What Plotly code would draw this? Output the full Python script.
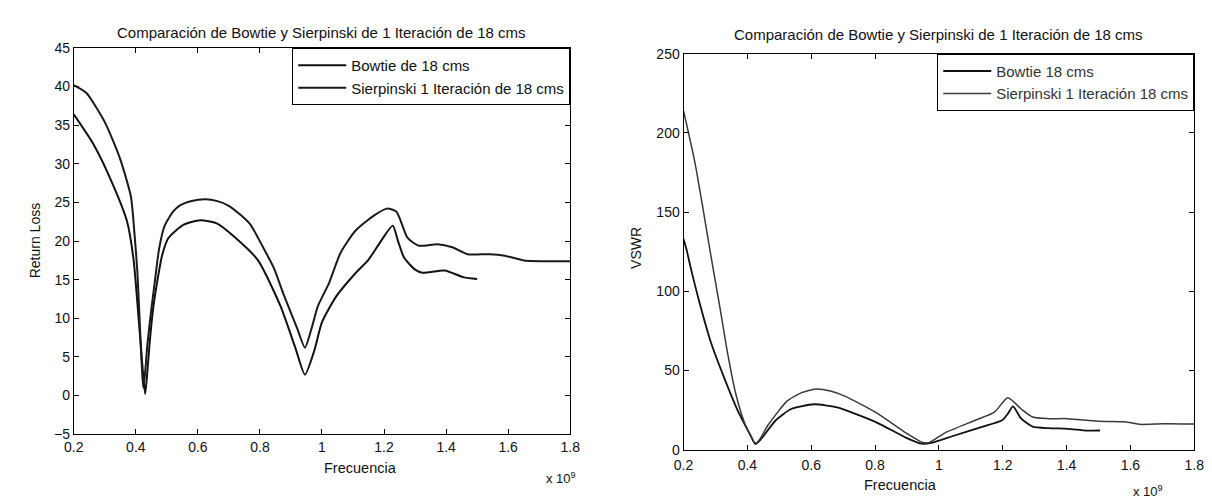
import plotly.graph_objects as go

# ---------------- data (frequency in units of 1e9 Hz) ----------------
rl_sierp_f = [0.2, 0.24, 0.3, 0.348, 0.384, 0.396, 0.405, 0.412, 0.419, 0.424, 0.43, 0.437,
              0.448, 0.462, 0.475, 0.493, 0.52, 0.541, 0.58, 0.625, 0.66, 0.698, 0.74, 0.77,
              0.81, 0.845, 0.878, 0.92, 0.945, 0.965, 0.987, 1.023, 1.06, 1.107, 1.167, 1.21,
              1.24, 1.276, 1.312, 1.372, 1.42, 1.469, 1.541, 1.589, 1.65, 1.71, 1.8]
rl_sierp_v = [40.2, 39.2, 35.4, 30.8, 25.8, 20.8, 16.0, 10.0, 4.0, 1.0, 3.0, 6.5,
              10.5, 15.0, 19.0, 22.0, 23.8, 24.6, 25.2, 25.4, 25.2, 24.6, 23.3, 22.1,
              19.2, 16.5, 12.9, 8.7, 6.2, 8.5, 11.6, 14.6, 18.5, 21.3, 23.3, 24.2,
              23.8, 20.4, 19.4, 19.6, 19.2, 18.3, 18.3, 18.1, 17.5, 17.4, 17.4]

rl_bow_f = [0.2, 0.264, 0.324, 0.372, 0.393, 0.405, 0.415, 0.423, 0.43, 0.437, 0.445, 0.455,
            0.47, 0.485, 0.505, 0.553, 0.607, 0.661, 0.722, 0.794, 0.866, 0.914, 0.945, 0.975,
            1.0, 1.047, 1.107, 1.15, 1.19, 1.228, 1.245, 1.264, 1.3, 1.324, 1.396, 1.457, 1.5]
rl_bow_v = [36.4, 32.5, 27.5, 22.5, 17.5, 12.0, 7.0, 3.0, 0.2, 3.0, 7.0, 11.0,
            15.0, 18.2, 20.4, 22.1, 22.7, 22.3, 20.4, 17.5, 11.6, 6.2, 2.7, 5.8,
            9.5, 12.9, 15.8, 17.6, 20.0, 22.0, 20.0, 17.9, 16.3, 15.9, 16.2, 15.3, 15.1]

vswr_sierp_f = [0.2, 0.236, 0.262, 0.287, 0.313, 0.338, 0.364, 0.395, 0.426, 0.44, 0.465, 0.525,
                0.57, 0.615, 0.66, 0.705, 0.801, 0.898, 0.95, 0.97, 1.018, 1.114, 1.174, 1.216,
                1.258, 1.294, 1.343, 1.403, 1.499, 1.583, 1.631, 1.703, 1.8]
vswr_sierp_v = [214, 181, 151, 121, 91, 61, 35, 15, 4, 7, 15.6, 30.8,
                36, 38.3, 37, 33.8, 23.7, 10.5, 4.5, 4.5, 10.5, 18.6, 23.7, 32.8,
                25.7, 20.6, 19.6, 19.6, 18, 17.6, 16, 16.4, 16.2]

vswr_bow_f = [0.2, 0.21, 0.22, 0.246, 0.287, 0.328, 0.369, 0.41, 0.425, 0.44, 0.489, 0.537,
              0.609, 0.681, 0.801, 0.898, 0.946, 0.98, 1.042, 1.138, 1.198, 1.216, 1.232,
              1.258, 1.294, 1.343, 1.403, 1.463, 1.505]
vswr_bow_v = [133, 126, 117, 96, 67, 45, 25, 9, 3.5, 6, 18.6, 25.7,
              28.7, 26.7, 17.6, 7.5, 3.8, 4.5, 8.5, 14.6, 18.6, 22.7, 27.3,
              19.6, 14.6, 13.6, 13.2, 12.1, 12.1]

x_ticks = [0.2, 0.4, 0.6, 0.8, 1.0, 1.2, 1.4, 1.6, 1.8]
x_ticktext = ["0.2", "0.4", "0.6", "0.8", "1", "1.2", "1.4", "1.6", "1.8"]
rl_ticks = [-5, 0, 5, 10, 15, 20, 25, 30, 35, 40, 45]
vswr_ticks = [0, 50, 100, 150, 200, 250]

title_text = "Comparación de Bowtie y Sierpinski de 1 Iteración de 18 cms"

# ---------------- figure ----------------
FONT = "Liberation Sans, Arial, sans-serif"
W, H = 1212, 501

fig = go.Figure()
fig.add_trace(go.Scatter(x=rl_bow_f, y=rl_bow_v, mode="lines", name="Bowtie de 18 cms",
                         line=dict(color="#111111", width=2, shape="spline", smoothing=0.6),
                         xaxis="x", yaxis="y", legend="legend"))
fig.add_trace(go.Scatter(x=rl_sierp_f, y=rl_sierp_v, mode="lines",
                         name="Sierpinski 1 Iteración de 18 cms",
                         line=dict(color="#1a1a1a", width=2, shape="spline", smoothing=0.6),
                         xaxis="x", yaxis="y", legend="legend"))
fig.add_trace(go.Scatter(x=vswr_bow_f, y=vswr_bow_v, mode="lines", name="Bowtie 18 cms",
                         line=dict(color="#111111", width=1.8, shape="spline", smoothing=0.6),
                         xaxis="x2", yaxis="y2", legend="legend2"))
fig.add_trace(go.Scatter(x=vswr_sierp_f, y=vswr_sierp_v, mode="lines",
                         name="Sierpinski 1 Iteración 18 cms",
                         line=dict(color="#3a3a3a", width=1.5, shape="spline", smoothing=0.6),
                         xaxis="x2", yaxis="y2", legend="legend2"))

xl = [56.7 / W, 561.5 / W]
yl = [1 - 432 / H, 1 - 33 / H]
xr = [676.7 / W, 1196.0 / W]
yr = [1 - 448 / H, 1 - 39 / H]

axis_common = dict(showline=True, linecolor="black", linewidth=1, mirror="ticks",
                   ticks="inside", ticklen=5, tickcolor="black", showgrid=False,
                   zeroline=False, tickfont=dict(family=FONT, size=14, color="#111"))

fig.update_layout(
    width=W, height=H,
    margin=dict(l=0, r=0, t=0, b=0),
    paper_bgcolor="white", plot_bgcolor="white",
    font=dict(family=FONT, size=14, color="#111"),
    xaxis=dict(domain=xl, range=[0.2, 1.8], tickvals=x_ticks, ticktext=x_ticktext,
               anchor="y", **axis_common),
    yaxis=dict(domain=yl, range=[-5, 45], tickvals=rl_ticks, anchor="x", **axis_common),
    xaxis2=dict(domain=xr, range=[0.2, 1.8], tickvals=x_ticks, ticktext=x_ticktext,
                anchor="y2", ticklabelstandoff=3, **axis_common),
    yaxis2=dict(domain=yr, range=[0, 250], tickvals=vswr_ticks, anchor="x2", **axis_common),
    legend=dict(x=xl[1], y=yl[1], xanchor="right", yanchor="top",
                bgcolor="white", bordercolor="black", borderwidth=1, itemwidth=48,
                font=dict(family=FONT, size=15, color="#111"), tracegroupgap=0),
    legend2=dict(x=xr[1], y=yr[1], xanchor="right", yanchor="top",
                 bgcolor="white", bordercolor="black", borderwidth=1, itemwidth=48,
                 font=dict(family=FONT, size=15, color="#333"), tracegroupgap=0),
    showlegend=True,
)

ann = []
ann.append(dict(text=title_text, x=(xl[0] + xl[1]) / 2, y=1 - 17 / H, xref="paper",
                yref="paper", showarrow=False, font=dict(size=15), xanchor="center",
                yanchor="middle"))
ann.append(dict(text=title_text, x=(xr[0] + xr[1]) / 2, y=1 - 19 / H, xref="paper",
                yref="paper", showarrow=False, font=dict(size=15), xanchor="center",
                yanchor="middle"))
ann.append(dict(text="Frecuencia", x=(xl[0] + xl[1]) / 2, y=1 - 467 / H, xref="paper",
                yref="paper", showarrow=False, font=dict(size=14.5), yanchor="middle"))
ann.append(dict(text="Frecuencia", x=(xr[0] + xr[1]) / 2, y=1 - 484 / H, xref="paper",
                yref="paper", showarrow=False, font=dict(size=14.5), yanchor="middle"))
ann.append(dict(text="x 10<sup>9</sup>", x=552 / W, y=1 - 477 / H, xref="paper",
                yref="paper", showarrow=False, font=dict(size=13), yanchor="middle"))
ann.append(dict(text="x 10<sup>9</sup>", x=1166 / W, y=1 - 491 / H, xref="paper",
                yref="paper", showarrow=False, font=dict(size=13), yanchor="middle"))
ann.append(dict(text="Return Loss", x=17 / W, y=1 - 232 / H, xref="paper", yref="paper",
                showarrow=False, textangle=-90, font=dict(size=14), xanchor="center",
                yanchor="middle"))
ann.append(dict(text="VSWR", x=629 / W, y=1 - 240 / H, xref="paper", yref="paper",
                showarrow=False, textangle=-90, font=dict(size=14), xanchor="center",
                yanchor="middle"))
fig.update_layout(annotations=ann)

fig.write_html("out.html")
